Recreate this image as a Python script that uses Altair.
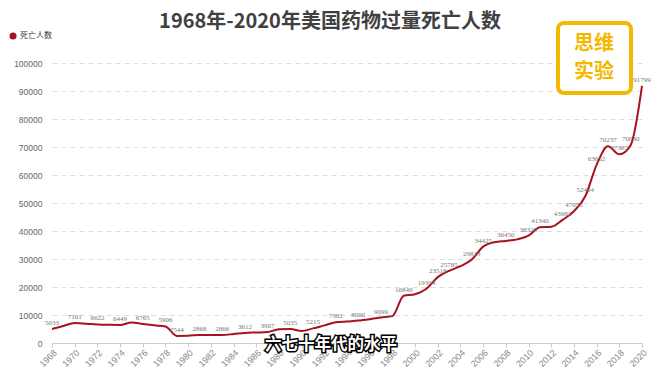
import altair as alt
import pandas as pd

years = list(range(1968, 2021))
deaths = [5033, 6100, 7101, 6900, 6622, 6500, 6449, 7350, 6765, 6300,
          5906, 2544, 2600, 2868, 2850, 2866, 3200, 3612, 3750, 3907,
          4900, 5035, 4300, 5215, 6300, 7382, 7700, 8000, 8500, 9099,
          9600, 16849, 17415, 19394, 23518, 25785, 27424, 29813, 34425, 36010,
          36450, 37004, 38329, 41340, 41502, 43982, 47055, 52404, 63632, 70237,
          67367, 70630, 91799]
label_years = [1968, 1970, 1972, 1974, 1976, 1978, 1979, 1981, 1983, 1985, 1987,
               1989, 1991, 1993, 1995, 1997, 1999, 2001, 2002, 2003, 2005, 2006,
               2008, 2010, 2011, 2013, 2014, 2015, 2016, 2017, 2018, 2019, 2020]
x_ticks = list(range(1968, 2021, 2))
y_ticks = list(range(0, 100001, 10000))

title_text = "1968年-2020年美国药物过量死亡人数"
series_name = "死亡人数"
subtitle_text = "六七十年代的水平"
badge_lines = ["思维", "实验"]

df = pd.DataFrame({"year": years, "deaths": deaths})
df["show"] = df["year"].isin(label_years)

RED = "#a8121c"
YEL = "#f5b800"
one = pd.DataFrame({"k": [0]})

x = alt.X("year:Q", scale=alt.Scale(domain=[1968, 2020], nice=False, zero=False),
          axis=alt.Axis(values=x_ticks, labelAngle=-45, format="d", title=None,
                        labelColor="#888", labelFontSize=9, labelFont="Liberation Sans",
                        domainColor="#ccc", tickColor="#ccc", tickSize=4, grid=False,
                        labelPadding=1, labelOverlap=False))
y = alt.Y("deaths:Q", scale=alt.Scale(domain=[0, 100000], nice=False),
          axis=alt.Axis(values=y_ticks, title=None, domain=False, ticks=False,
                        labelPadding=10, labelColor="#666", labelFontSize=8.5,
                        labelFont="Liberation Sans", gridColor="#dddddd",
                        gridDash=[5, 4], format="d", labelOverlap=False))

base = alt.Chart(df)
line = base.mark_line(interpolate="monotone", strokeWidth=2, color=RED).encode(x=x, y=y)
labels = base.transform_filter("datum.show").mark_text(
    dy=-3, baseline="bottom", fontSize=7, font="Liberation Serif", color="#777"
).encode(x=x, y=y, text="deaths:Q")

dec = alt.Chart(one)
title = dec.mark_text(text=title_text, fontSize=20, fontWeight="bold",
                      font="Noto Sans CJK SC", color="#404040", baseline="middle",
                      align="center").encode(x=alt.value(278), y=alt.value(-41))
leg_dot = dec.mark_circle(size=50, color=RED, opacity=1).encode(x=alt.value(-39), y=alt.value(-27))
leg_txt = dec.mark_text(text=series_name, fontSize=8, font="Noto Sans CJK SC",
                        color="#333", align="left", baseline="middle").encode(
    x=alt.value(-32), y=alt.value(-27))
badge = dec.mark_rect(fill="white", stroke=YEL, strokeWidth=4, cornerRadius=6).encode(
    x=alt.value(506), x2=alt.value(579), y=alt.value(-40), y2=alt.value(30))
b1 = dec.mark_text(text=badge_lines[0], fontSize=20, fontWeight="bold",
                   font="Noto Sans CJK SC", color=YEL, baseline="middle").encode(
    x=alt.value(542), y=alt.value(-19))
b2 = dec.mark_text(text=badge_lines[1], fontSize=20, fontWeight="bold",
                   font="Noto Sans CJK SC", color=YEL, baseline="middle").encode(
    x=alt.value(542), y=alt.value(9))
sub_s = dec.mark_text(text=subtitle_text, fontSize=16.5, fontWeight="bold",
                      font="Noto Sans CJK SC", color="black", stroke="black",
                      strokeWidth=3, baseline="middle").encode(x=alt.value(279), y=alt.value(282))
sub_f = dec.mark_text(text=subtitle_text, fontSize=16.5, fontWeight="bold",
                      font="Noto Sans CJK SC", color="white", baseline="middle").encode(
    x=alt.value(279), y=alt.value(282))

chart = alt.layer(line, labels, title, leg_dot, leg_txt, badge, b1, b2, sub_s, sub_f).properties(
    width=590, height=280,
    padding={"left": 44, "top": 55, "right": 10, "bottom": 27},
    autosize=alt.AutoSizeParams(type="none"),
    background="white",
).configure_view(stroke=None)

chart.save("out.html", embed_options={"renderer": "svg", "actions": False})
